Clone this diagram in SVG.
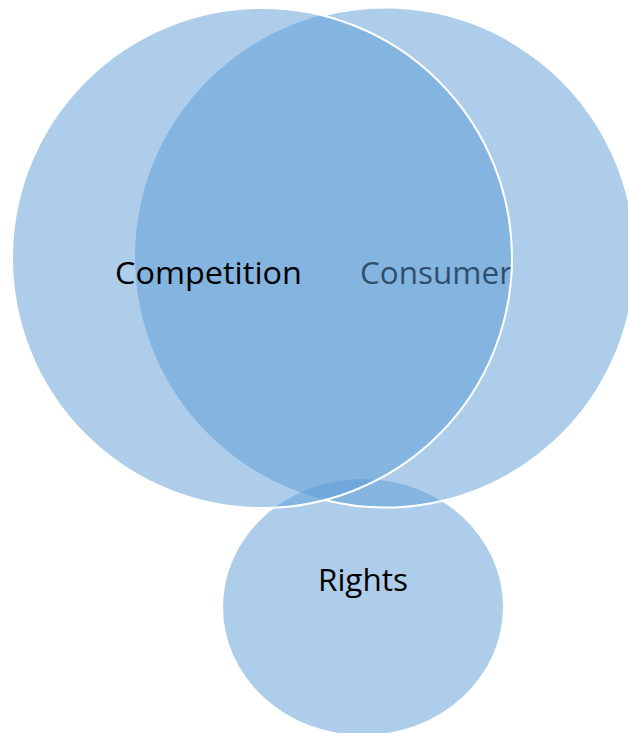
<svg xmlns="http://www.w3.org/2000/svg" width="628" height="733" viewBox="0 0 628 733">
  <style>
    .fill { fill: #5B9BD5; fill-opacity: 0.5; stroke: none; }
    .edge { fill: none; stroke: #FFFFFF; stroke-width: 2; }
    .lbl { font-family: "Open Sans", "Noto Sans", "Liberation Sans", sans-serif; font-size: 31px; fill: #000000; }
  </style>
  <rect x="0" y="0" width="628" height="733" fill="#FFFFFF"/>
  <g id="rights">
    <ellipse class="fill" cx="363" cy="607" rx="140" ry="128"/>
    <text class="lbl" x="318" y="591" textLength="90" lengthAdjust="spacingAndGlyphs">Rights</text>
  </g>
  <g id="consumer">
    <circle class="fill" cx="385" cy="257" r="250"/>
    <path class="edge" d="M 323.5 499.8 A 250 250 0 1 0 323.5 15.2"/>
    <text class="lbl" x="360" y="284" textLength="152" lengthAdjust="spacingAndGlyphs">Consumer</text>
  </g>
  <g id="competition">
    <circle class="fill" cx="262" cy="258" r="250"/>
    <circle class="edge" cx="262" cy="258" r="250"/>
    <text class="lbl" x="115" y="284" textLength="187" lengthAdjust="spacingAndGlyphs">Competition</text>
  </g>
</svg>
